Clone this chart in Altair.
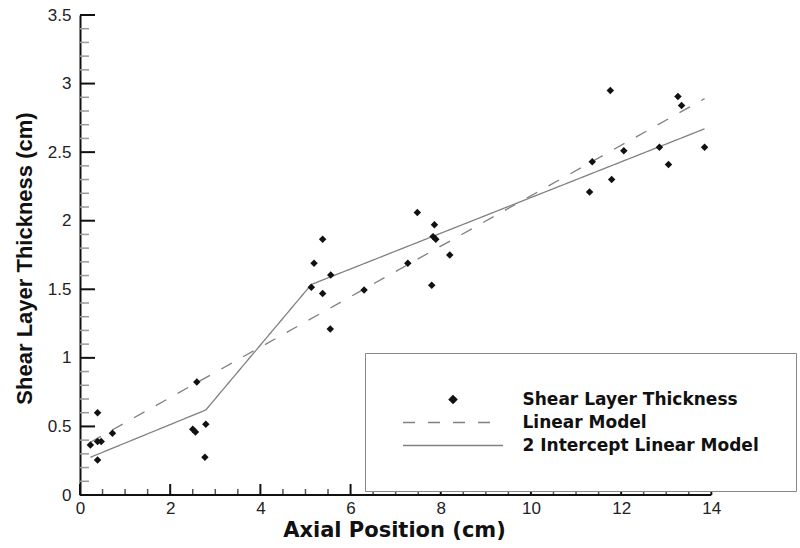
import altair as alt
import pandas as pd

# ---- data ----
series_names = ["Shear Layer Thickness", "Linear Model", "2 Intercept Linear Model"]

pts_x = [0.23, 0.39, 0.39, 0.47, 0.39, 0.72, 2.50, 2.56, 2.59, 2.79, 2.77,
         5.13, 5.19, 5.38, 5.38, 5.56, 5.55, 6.30, 7.27, 7.48, 7.80, 7.83,
         7.86, 7.89, 8.20, 11.30, 11.36, 11.76, 11.79, 12.06, 12.85, 13.05,
         13.26, 13.34, 13.85]
pts_y = [0.365, 0.60, 0.39, 0.39, 0.255, 0.45, 0.48, 0.46, 0.824, 0.516, 0.275,
         1.515, 1.69, 1.47, 1.865, 1.605, 1.21, 1.495, 1.69, 2.06, 1.53, 1.884,
         1.97, 1.865, 1.75, 2.21, 2.43, 2.95, 2.30, 2.51, 2.536, 2.41,
         2.905, 2.84, 2.536]

linear_x = [0.23, 13.85]
linear_y = [0.385, 2.89]

two_x = [0.23, 2.79, 5.13, 13.85]
two_y = [0.275, 0.62, 1.535, 2.67]

x_major = [0, 2, 4, 6, 8, 10, 12, 14]
x_minor = [0.5, 1, 1.5, 2.5, 3, 3.5, 4.5, 5, 5.5, 6.5, 7, 7.5, 8.5, 9, 9.5,
           10.5, 11, 11.5, 12.5, 13, 13.5]
y_major = [0, 0.5, 1, 1.5, 2, 2.5, 3, 3.5]
y_minor = [round(i / 10, 1) for i in range(36) if i % 5 != 0]

# ---- tables ----
points_df = pd.DataFrame({"x": pts_x, "y": pts_y, "series": series_names[0]})
lines_df = pd.concat([
    pd.DataFrame({"x": linear_x, "y": linear_y, "series": series_names[1]}),
    pd.DataFrame({"x": two_x, "y": two_y, "series": series_names[2]}),
])
xmaj_df = pd.DataFrame({"x": x_major})
xmin_df = pd.DataFrame({"x": x_minor})
ymaj_df = pd.DataFrame({"y": y_major})
ymin_df = pd.DataFrame({"y": y_minor})
xdom_df = pd.DataFrame({"x": [x_major[0]], "x2": [x_major[-1]], "y": [0]})

# ---- scales / axes ----
x_scale = alt.Scale(domain=[0, 15.9], nice=False, zero=False)
y_scale = alt.Scale(domain=[0, 3.5], nice=False, zero=False)

x_axis = alt.Axis(values=x_major, format="d", title="Axial Position (cm)",
                  domain=False, ticks=False, tickSize=0, grid=False,
                  labelPadding=5, labelFont="Liberation Sans", labelFontSize=17,
                  labelColor="#222222", labelFlush=False, labelOverlap=False,
                  titleFont="DejaVu Sans", titleFontSize=21, titleFontWeight="bold",
                  titleColor="#111111", titleX=314, titleY=41,
                  titleBaseline="alphabetic", titleAlign="center")
y_axis = alt.Axis(values=y_major, format="~g", title="Shear Layer Thickness (cm)",
                  domain=True, domainColor="#111111", domainWidth=2,
                  ticks=False, tickSize=0, grid=False,
                  labelPadding=9, labelFont="Liberation Sans", labelFontSize=17,
                  labelColor="#222222", labelFlush=False, labelOverlap=False,
                  titleFont="Liberation Sans", titleFontSize=22, titleFontWeight="bold",
                  titleColor="#111111", titleX=-49, titleY=243, titleAngle=270,
                  titleBaseline="alphabetic", titleAlign="center")

X = alt.X("x:Q", scale=x_scale, axis=x_axis)
Y = alt.Y("y:Q", scale=y_scale, axis=y_axis)

diamond_path = "M0,-0.44L0.44,0L0,0.44L-0.44,0Z"
line_path = "M-5.88,0L5.88,0"

color_enc = alt.Color("series:N", scale=alt.Scale(domain=series_names,
                      range=["#111111", "#808080", "#808080"]),
                      legend=alt.Legend(title=None))
shape_enc = alt.Shape("series:N", scale=alt.Scale(domain=series_names,
                      range=[diamond_path, line_path, line_path]),
                      legend=alt.Legend(title=None))
dash_enc = alt.StrokeDash("series:N", scale=alt.Scale(domain=series_names,
                          range=[[1, 0], [12, 13], [1, 0]]),
                          legend=alt.Legend(title=None))

lines = alt.Chart(lines_df).mark_line(strokeWidth=1.3).encode(
    x=X, y=Y, color=color_enc, strokeDash=dash_enc)

points = alt.Chart(points_df).mark_point(filled=True, size=289, opacity=1).encode(
    x=X, y=Y, color=color_enc, shape=shape_enc)

x_dom = alt.Chart(xdom_df).mark_rule(color="#111111", strokeWidth=2).encode(
    x=X, x2="x2:Q", y=Y)
x_major_t = alt.Chart(xmaj_df).mark_rule(color="#111111", strokeWidth=2).encode(
    x=X, y=alt.value(480), y2=alt.value(469))
x_minor_t = alt.Chart(xmin_df).mark_rule(color="#555555", strokeWidth=1.5).encode(
    x=X, y=alt.value(480), y2=alt.value(474))
y_major_t = alt.Chart(ymaj_df).mark_rule(color="#111111", strokeWidth=2).encode(
    y=Y, x=alt.value(0), x2=alt.value(15))
y_minor_t = alt.Chart(ymin_df).mark_rule(color="#999999", strokeWidth=1.5).encode(
    y=Y, x=alt.value(0), x2=alt.value(9))

chart = alt.layer(
    x_minor_t, y_minor_t, x_major_t, y_major_t, x_dom, lines, points
).properties(
    width=717, height=480,
    autosize=alt.AutoSizeParams(type="none"),
    padding={"left": 80, "top": 15, "right": 3, "bottom": 53},
    background="white",
).configure_view(
    stroke="transparent"
).configure_legend(
    orient="none", legendX=285, legendY=338, padding=37,
    strokeColor="#888888", fillColor="white",
    labelFont="DejaVu Sans", labelFontSize=17, labelFontWeight="bold",
    labelColor="#111111", labelLimit=400,
    symbolSize=289, symbolStrokeWidth=1.5, symbolOffset=41.5,
    labelOffset=60, rowPadding=5,
)

chart.save("out.html", embed_options={"renderer": "svg", "actions": False})
